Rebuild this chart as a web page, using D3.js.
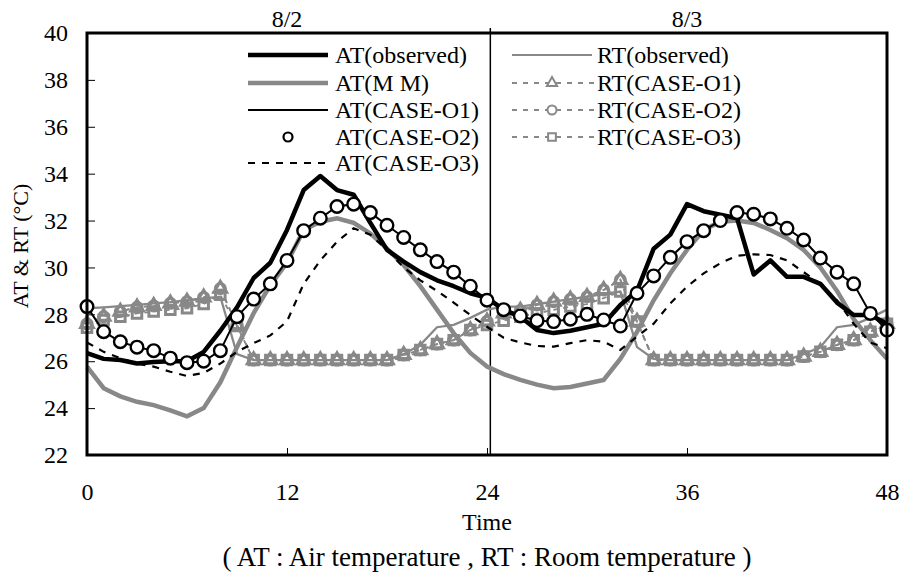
<!DOCTYPE html>
<html>
<head>
<meta charset="utf-8">
<script src="https://cdn.jsdelivr.net/npm/d3@7"></script>
<style>
  body { margin: 0; background: #fff; }
</style>
</head>
<body>
<div id="chart-area"></div>
<script>
// hours 0..48
var hours = d3.range(0, 49);
var yTicks = [22, 24, 26, 28, 30, 32, 34, 36, 38, 40];
var xTicks = [0, 12, 24, 36, 48];
var dayLabels = ["8/2", "8/3"];
var dayCenters = [12, 36];

var atObserved = [26.35, 26.1, 26.05, 25.9, 25.97, 26.0, 26.0, 26.4, 27.3, 28.3, 29.55, 30.2, 31.6,
  33.3, 33.9, 33.3, 33.1, 31.9, 30.75, 30.25, 29.8, 29.45, 29.2, 28.9, 28.7,
  28.2, 27.9, 27.33, 27.2, 27.3, 27.45, 27.6, 28.4, 29.0, 30.8, 31.4, 32.7,
  32.4, 32.25, 32.1, 29.7, 30.3, 29.6, 29.6, 29.3, 28.5, 27.97, 27.97, 27.6];

var atMM = [25.77, 24.85, 24.5, 24.27, 24.13, 23.9, 23.65, 24.0, 25.1, 26.6, 28.05, 29.25, 30.2,
  31.6, 31.95, 32.1, 31.9, 31.45, 30.8, 30.1, 29.2, 28.2, 27.2, 26.35, 25.77,
  25.45, 25.2, 25.0, 24.85, 24.9, 25.05, 25.2, 26.1, 27.25, 28.6, 29.75, 30.75,
  31.6, 31.95, 32.0, 31.9, 31.6, 31.25, 30.75, 30.0, 29.0, 27.8, 26.9, 26.1];

var atCaseO1 = [28.33, 27.26, 26.83, 26.6, 26.45, 26.13, 25.94, 26.0, 26.45, 27.9, 28.65, 29.3, 30.3,
  31.57, 32.1, 32.6, 32.7, 32.34, 31.8, 31.28, 30.75, 30.25, 29.8, 29.2, 28.6,
  28.2, 27.93, 27.73, 27.69, 27.79, 28.0, 27.76, 27.5, 28.9, 29.64, 30.43, 31.1,
  31.57, 32.0, 32.34, 32.27, 32.07, 31.67, 31.17, 30.4, 29.8, 29.3, 28.04, 27.33];

var atCaseO2 = [28.33, 27.26, 26.83, 26.6, 26.45, 26.13, 25.94, 26.0, 26.45, 27.9, 28.65, 29.3, 30.3,
  31.57, 32.1, 32.6, 32.7, 32.34, 31.8, 31.28, 30.75, 30.25, 29.8, 29.2, 28.6,
  28.2, 27.93, 27.73, 27.69, 27.79, 28.0, 27.76, 27.5, 28.9, 29.64, 30.43, 31.1,
  31.57, 32.0, 32.34, 32.27, 32.07, 31.67, 31.17, 30.4, 29.8, 29.3, 28.04, 27.33];

var atCaseO3 = [26.8, 26.4, 26.13, 25.9, 25.77, 25.55, 25.37, 25.5, 25.9, 26.4, 26.77, 27.1, 27.7,
  29.3, 30.3, 31.1, 31.67, 31.4, 30.75, 30.0, 29.45, 29.0, 28.5, 27.97, 27.47,
  27.0, 26.8, 26.65, 26.62, 26.77, 26.9, 26.83, 26.48, 27.05, 27.6, 28.47, 29.18,
  29.75, 30.18, 30.5, 30.56, 30.53, 30.3, 29.8, 29.3, 28.6, 27.6, 26.8, 26.55];

var rtObserved = [28.26, 28.3, 28.35, 28.4, 28.47, 28.52, 28.6, 28.68, 28.75, 26.3, 26.05, 26.05, 26.05,
  26.05, 26.05, 26.05, 26.05, 26.05, 26.05, 26.3, 26.7, 27.45, 27.55, 27.85, 28.2,
  28.33, 28.33, 28.44, 28.54, 28.65, 28.75, 28.87, 28.97, 26.6, 26.1, 26.05, 26.05,
  26.05, 26.05, 26.05, 26.05, 26.05, 26.05, 26.3, 26.6, 27.45, 27.55, 27.85, 28.2];

var rtCaseO1 = [27.59, 27.9, 28.12, 28.3, 28.36, 28.47, 28.54, 28.72, 29.1, 27.55, 26.05, 26.05, 26.05,
  26.05, 26.05, 26.05, 26.05, 26.05, 26.05, 26.27, 26.48, 26.73, 26.9, 27.33, 27.7,
  28.04, 28.16, 28.4, 28.54, 28.64, 28.75, 29.04, 29.47, 27.69, 26.05, 26.05, 26.05,
  26.05, 26.05, 26.05, 26.05, 26.05, 26.05, 26.2, 26.4, 26.7, 26.9, 27.26, 27.6];

var rtCaseO2 = [27.59, 27.9, 28.12, 28.3, 28.36, 28.47, 28.54, 28.72, 29.1, 27.55, 26.05, 26.05, 26.05,
  26.05, 26.05, 26.05, 26.05, 26.05, 26.05, 26.27, 26.48, 26.73, 26.9, 27.33, 27.7,
  28.04, 28.16, 28.4, 28.54, 28.64, 28.75, 29.04, 29.47, 27.69, 26.05, 26.05, 26.05,
  26.05, 26.05, 26.05, 26.05, 26.05, 26.05, 26.2, 26.4, 26.7, 26.9, 27.26, 27.6];

var rtCaseO3 = [27.43, 27.76, 27.9, 28.04, 28.12, 28.19, 28.26, 28.44, 28.83, 27.5, 26.05, 26.05, 26.05,
  26.05, 26.05, 26.05, 26.05, 26.05, 26.05, 26.27, 26.48, 26.73, 26.9, 27.33, 27.55,
  27.73, 27.9, 28.04, 28.19, 28.33, 28.44, 28.69, 28.97, 27.69, 26.05, 26.05, 26.05,
  26.05, 26.05, 26.05, 26.05, 26.05, 26.05, 26.2, 26.4, 26.7, 26.9, 27.26, 27.6];

var gray = "#888888";
var serif = "'Liberation Serif'";

var svg = d3.select("#chart-area").append("svg")
  .attr("width", 905)
  .attr("height", 575);

var x = d3.scaleLinear().domain([0, 48]).range([87, 887]);
var y = d3.scaleLinear().domain([22, 40]).range([455, 33]);

function pts(vals) {
  return vals.map(function (v, i) { return [hours[i], v]; });
}

var line = d3.line()
  .x(function (d) { return x(d[0]); })
  .y(function (d) { return y(d[1]); });

// day divider
svg.append("line")
  .attr("x1", x(24.2)).attr("x2", x(24.2))
  .attr("y1", 28).attr("y2", 455)
  .attr("stroke", "black").attr("stroke-width", 1.5);

// RT observed
svg.append("path").datum(pts(rtObserved))
  .attr("d", line).attr("fill", "none")
  .attr("stroke", gray).attr("stroke-width", 2.3);

// RT cases (dashed gray with markers)
[rtCaseO1, rtCaseO2, rtCaseO3].forEach(function (vals) {
  svg.append("path").datum(pts(vals))
    .attr("d", line).attr("fill", "none")
    .attr("stroke", gray).attr("stroke-width", 1.8)
    .attr("stroke-dasharray", "5,5");
});

var triangle = d3.symbol().type(d3.symbolTriangle).size(70);
var square = d3.symbol().type(d3.symbolSquare).size(90);

svg.append("g").selectAll("path")
  .data(pts(rtCaseO1)).enter().append("path")
  .attr("d", triangle)
  .attr("transform", function (d) { return "translate(" + x(d[0]) + "," + y(d[1]) + ")"; })
  .attr("fill", "none").attr("stroke", gray).attr("stroke-width", 3);

svg.append("g").selectAll("circle")
  .data(pts(rtCaseO2)).enter().append("circle")
  .attr("cx", function (d) { return x(d[0]); })
  .attr("cy", function (d) { return y(d[1]); })
  .attr("r", 5)
  .attr("fill", "none").attr("stroke", gray).attr("stroke-width", 3);

svg.append("g").selectAll("path")
  .data(pts(rtCaseO3)).enter().append("path")
  .attr("d", square)
  .attr("transform", function (d) { return "translate(" + x(d[0]) + "," + y(d[1]) + ")"; })
  .attr("fill", "none").attr("stroke", gray).attr("stroke-width", 3);

// AT M M
svg.append("path").datum(pts(atMM))
  .attr("d", line).attr("fill", "none")
  .attr("stroke", gray).attr("stroke-width", 4.5);

// AT CASE-O3
svg.append("path").datum(pts(atCaseO3))
  .attr("d", line).attr("fill", "none")
  .attr("stroke", "black").attr("stroke-width", 2.2)
  .attr("stroke-dasharray", "7,7");

// AT observed
svg.append("path").datum(pts(atObserved))
  .attr("d", line).attr("fill", "none")
  .attr("stroke", "black").attr("stroke-width", 4.5)
  .attr("stroke-linejoin", "round");

// AT CASE-O1
svg.append("path").datum(pts(atCaseO1))
  .attr("d", line).attr("fill", "none")
  .attr("stroke", "black").attr("stroke-width", 2);

// AT CASE-O2 circles
svg.append("g").selectAll("circle")
  .data(pts(atCaseO2)).enter().append("circle")
  .attr("cx", function (d) { return x(d[0]); })
  .attr("cy", function (d) { return y(d[1]); })
  .attr("r", 6.3)
  .attr("fill", "white").attr("stroke", "black").attr("stroke-width", 2.4);

// axes
var yAxis = d3.axisLeft(y).tickValues(yTicks).tickSize(-8).tickPadding(19);
var yG = svg.append("g").attr("transform", "translate(87,0)").call(yAxis);
var xAxis = d3.axisBottom(x).tickValues(xTicks).tickSize(-7).tickPadding(28);
var xG = svg.append("g").attr("transform", "translate(0,455)").call(xAxis);
[yG, xG].forEach(function (g) {
  g.attr("font-family", null).attr("font-size", null);
  g.select(".domain").remove();
  g.selectAll("line").attr("stroke", "black").attr("stroke-width", 1);
  g.selectAll("text").style("font-family", serif).style("font-size", "24px").attr("fill", "black");
});

// frame
svg.append("rect")
  .attr("x", 87).attr("y", 33)
  .attr("width", 800).attr("height", 422)
  .attr("fill", "none").attr("stroke", "black").attr("stroke-width", 3);

// day labels
svg.selectAll(".day").data(dayLabels).enter().append("text")
  .attr("class", "lbl")
  .attr("x", function (d, i) { return x(dayCenters[i]); })
  .attr("y", 27)
  .attr("text-anchor", "middle")
  .text(function (d) { return d; });

// axis titles
svg.append("text").attr("class", "lbl")
  .attr("x", x(24)).attr("y", 530)
  .attr("text-anchor", "middle")
  .text("Time");

svg.append("text").attr("class", "lbl cap")
  .attr("x", x(24)).attr("y", 566)
  .attr("text-anchor", "middle")
  .text("( AT : Air temperature , RT : Room temperature )");

svg.append("text").attr("class", "lbl ylab")
  .attr("transform", "translate(28,246) rotate(-90)")
  .attr("text-anchor", "middle")
  .text("AT & RT (°C)");

// legend - left
var legLeft = svg.append("g");
var leftRows = [55, 83, 110, 137, 163];
var leftNames = ["AT(observed)", "AT(M M)", "AT(CASE-O1)", "AT(CASE-O2)", "AT(CASE-O3)"];
legLeft.append("line").attr("x1", 248).attr("x2", 328).attr("y1", leftRows[0]).attr("y2", leftRows[0])
  .attr("stroke", "black").attr("stroke-width", 4.5);
legLeft.append("line").attr("x1", 248).attr("x2", 328).attr("y1", leftRows[1]).attr("y2", leftRows[1])
  .attr("stroke", gray).attr("stroke-width", 4.5);
legLeft.append("line").attr("x1", 248).attr("x2", 328).attr("y1", leftRows[2]).attr("y2", leftRows[2])
  .attr("stroke", "black").attr("stroke-width", 2);
legLeft.append("circle").attr("cx", 288).attr("cy", leftRows[3]).attr("r", 4.5)
  .attr("fill", "white").attr("stroke", "black").attr("stroke-width", 2.2);
legLeft.append("line").attr("x1", 248).attr("x2", 330).attr("y1", leftRows[4]).attr("y2", leftRows[4])
  .attr("stroke", "black").attr("stroke-width", 2.2).attr("stroke-dasharray", "7,7");
legLeft.selectAll("text").data(leftNames).enter().append("text")
  .attr("class", "lbl")
  .attr("x", 335)
  .attr("y", function (d, i) { return leftRows[i]; })
  .attr("dy", "0.35em")
  .text(function (d) { return d; });

// legend - right
var legRight = svg.append("g");
var rightRows = [55, 83, 110, 137];
var rightNames = ["RT(observed)", "RT(CASE-O1)", "RT(CASE-O2)", "RT(CASE-O3)"];
legRight.append("line").attr("x1", 512).attr("x2", 592).attr("y1", rightRows[0]).attr("y2", rightRows[0])
  .attr("stroke", gray).attr("stroke-width", 2);
[1, 2, 3].forEach(function (r) {
  legRight.append("line").attr("x1", 512).attr("x2", 594).attr("y1", rightRows[r]).attr("y2", rightRows[r])
    .attr("stroke", gray).attr("stroke-width", 2).attr("stroke-dasharray", "5,6");
});
legRight.append("path").attr("d", d3.symbol().type(d3.symbolTriangle).size(45))
  .attr("transform", "translate(552," + rightRows[1] + ")")
  .attr("fill", "white").attr("stroke", gray).attr("stroke-width", 2);
legRight.append("circle").attr("cx", 552).attr("cy", rightRows[2]).attr("r", 4.5)
  .attr("fill", "white").attr("stroke", gray).attr("stroke-width", 2);
legRight.append("path").attr("d", d3.symbol().type(d3.symbolSquare).size(60))
  .attr("transform", "translate(552," + rightRows[3] + ")")
  .attr("fill", "white").attr("stroke", gray).attr("stroke-width", 2);
legRight.selectAll("text").data(rightNames).enter().append("text")
  .attr("class", "lbl")
  .attr("x", 597)
  .attr("y", function (d, i) { return rightRows[i]; })
  .attr("dy", "0.35em")
  .text(function (d) { return d; });

svg.selectAll("text.lbl").style("font-family", serif).style("font-size", "24px").attr("fill", "black");
svg.selectAll("text.ylab").style("font-size", "22px");
svg.selectAll("text.cap").style("font-size", "27px");
</script>
</body>
</html>
